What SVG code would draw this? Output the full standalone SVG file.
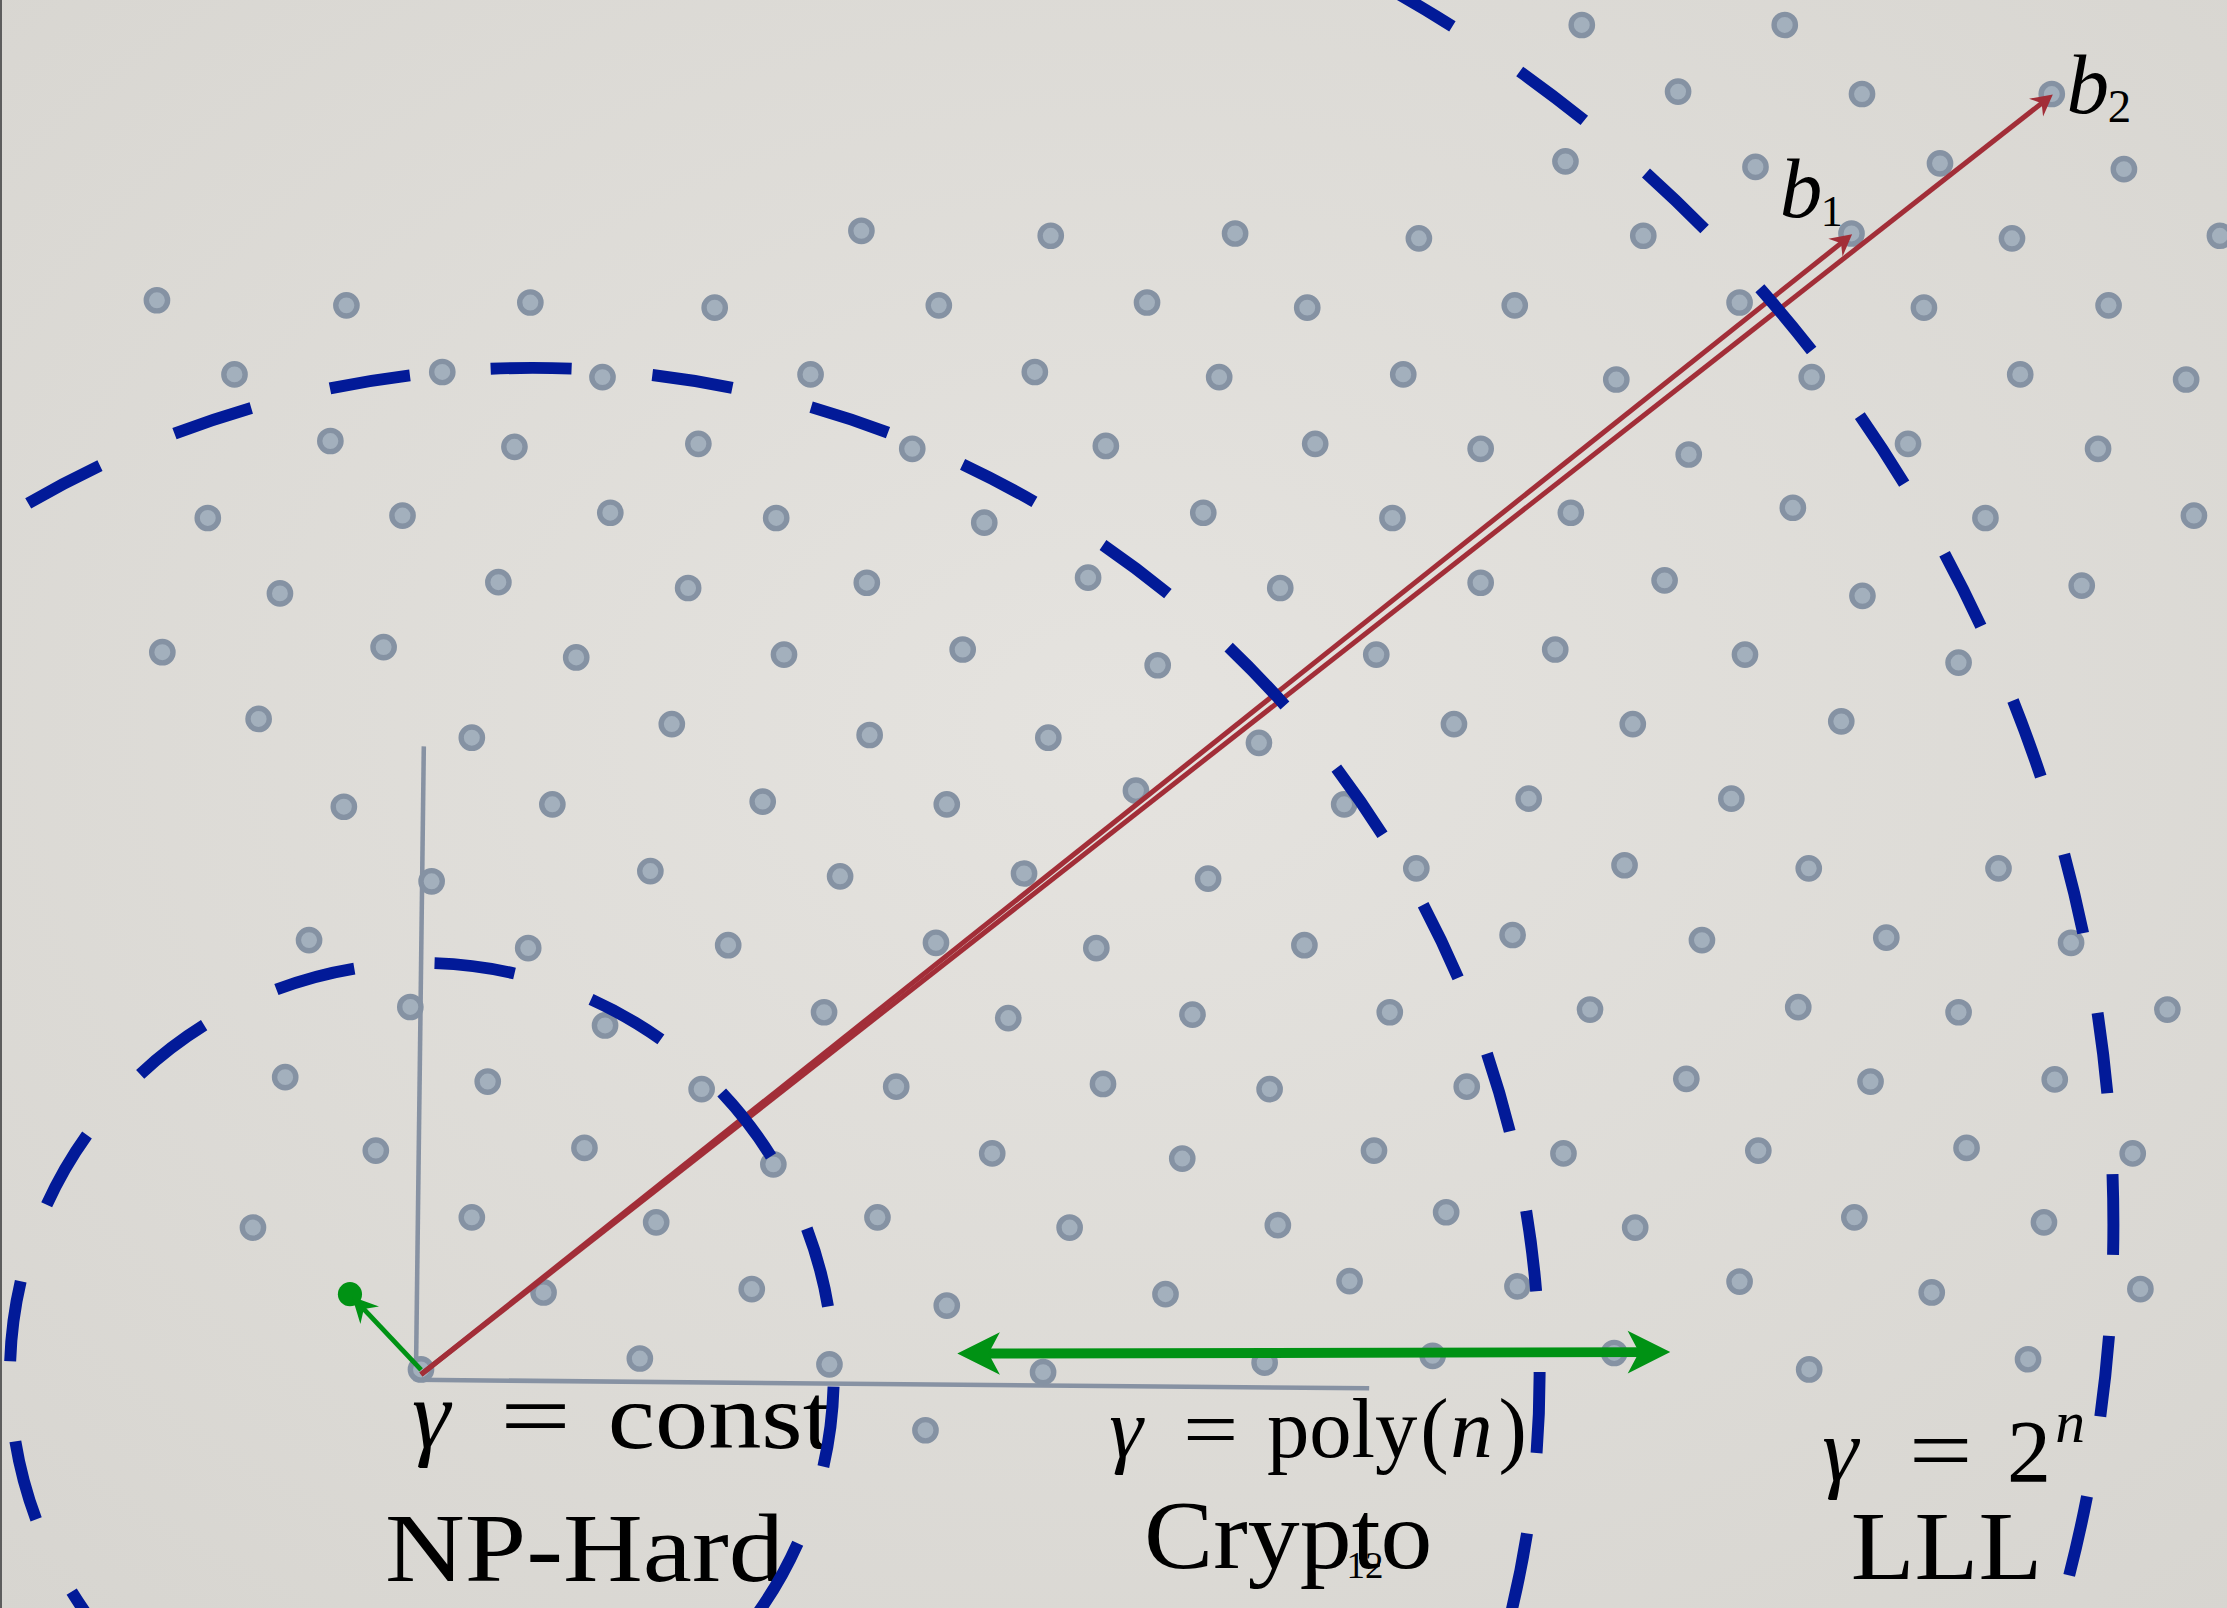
<svg xmlns="http://www.w3.org/2000/svg" xmlns:xlink="http://www.w3.org/1999/xlink" width="2227" height="1608" viewBox="0 0 2227 1608">
<defs>
<radialGradient id="bg" cx="50%" cy="45%" r="75%">
<stop offset="0" stop-color="#e5e3df"/>
<stop offset="1" stop-color="#d7d5d0"/>
</radialGradient>
<circle id="dt" r="7.5" fill="#a3b0bd" stroke="#8592a3" stroke-width="3.8"/>
<marker id="ar" markerUnits="userSpaceOnUse" orient="auto" overflow="visible" refX="-4" refY="0" markerWidth="1" markerHeight="1">
<path d="M0,0 L-15,-8 L-10,0 L-15,8 Z" fill="#a22e38"/>
</marker>
<marker id="ag" markerUnits="userSpaceOnUse" orient="auto" overflow="visible" refX="-4" refY="0" markerWidth="1" markerHeight="1">
<path d="M0,0 L-18,-9 L-12,0 L-18,9 Z" fill="#009214"/>
</marker>
<marker id="agb" markerUnits="userSpaceOnUse" orient="auto-start-reverse" overflow="visible" refX="-14" refY="0" markerWidth="1" markerHeight="1">
<path d="M0,0 L-30,-15 L-22,0 L-30,15 Z" fill="#009214"/>
</marker>
<style>
.t{font-family:"Liberation Serif","Times New Roman",serif;fill:#000}
.i{font-style:italic}
.ax{stroke:#8792a3;stroke-width:3.2;fill:none}
.dc{fill:none;stroke:#021a98;stroke-width:8.4}
.red{stroke:#a22e38;stroke-width:3.5;fill:none;marker-end:url(#ar)}
</style>
</defs>
<rect width="2227" height="1608" fill="url(#bg)"/>
<rect x="0" y="0" width="2" height="1608" fill="#5d5d5d"/>
<g transform="scale(1.4203)">
<g id="axes">
<line class="ax" x1="298.4" y1="525.5" x2="292.8" y2="972.5"/>
<line class="ax" x1="292.8" y1="971.5" x2="964" y2="977.5"/>
</g>
<g id="lattice">
<use href="#dt" x="1113.7" y="17.6"/><use href="#dt" x="1256.6" y="17.6"/>
<use href="#dt" x="1181.5" y="64.5"/><use href="#dt" x="1311" y="66.2"/><use href="#dt" x="1444.6" y="66.2"/>
<use href="#dt" x="1102.2" y="113.6"/><use href="#dt" x="1236" y="117.5"/><use href="#dt" x="1365.9" y="115"/><use href="#dt" x="1495.4" y="119.1"/>
<use href="#dt" x="606.5" y="162.5"/><use href="#dt" x="739.8" y="166"/><use href="#dt" x="869.6" y="164.4"/><use href="#dt" x="999" y="167.8"/><use href="#dt" x="1157" y="166"/><use href="#dt" x="1303.6" y="164.4"/><use href="#dt" x="1416.6" y="167.8"/><use href="#dt" x="1563" y="166"/>
<use href="#dt" x="110.5" y="211.4"/><use href="#dt" x="243.9" y="215"/><use href="#dt" x="373.4" y="213"/><use href="#dt" x="503.2" y="216.6"/><use href="#dt" x="661" y="215"/><use href="#dt" x="807.6" y="213"/><use href="#dt" x="920.4" y="216.6"/><use href="#dt" x="1066.5" y="215"/><use href="#dt" x="1224.8" y="213"/><use href="#dt" x="1354.6" y="216.6"/><use href="#dt" x="1484.6" y="215"/>
<use href="#dt" x="165.1" y="263.6"/><use href="#dt" x="311.4" y="261.9"/><use href="#dt" x="424.2" y="265.5"/><use href="#dt" x="570.7" y="263.6"/><use href="#dt" x="728.6" y="261.9"/><use href="#dt" x="858.4" y="265.5"/><use href="#dt" x="988" y="263.6"/><use href="#dt" x="1138" y="267.2"/><use href="#dt" x="1275.6" y="265.5"/><use href="#dt" x="1422.4" y="263.6"/><use href="#dt" x="1539.2" y="267.2"/>
<use href="#dt" x="232.6" y="310.5"/><use href="#dt" x="362.2" y="314.6"/><use href="#dt" x="491.7" y="312.5"/><use href="#dt" x="642.3" y="316"/><use href="#dt" x="778.6" y="314"/><use href="#dt" x="926" y="312.5"/><use href="#dt" x="1042.5" y="316"/><use href="#dt" x="1189" y="320"/><use href="#dt" x="1343.4" y="312.5"/><use href="#dt" x="1477.2" y="316"/>
<use href="#dt" x="146.3" y="364.7"/><use href="#dt" x="283.4" y="363"/><use href="#dt" x="429.7" y="361"/><use href="#dt" x="546.5" y="364.7"/><use href="#dt" x="693" y="368"/><use href="#dt" x="847.2" y="361"/><use href="#dt" x="980.4" y="364.7"/><use href="#dt" x="1106" y="361"/><use href="#dt" x="1262.3" y="357.5"/><use href="#dt" x="1397.9" y="364.7"/><use href="#dt" x="1544.7" y="363"/>
<use href="#dt" x="197.1" y="417.8"/><use href="#dt" x="350.9" y="409.9"/><use href="#dt" x="484.5" y="414"/><use href="#dt" x="610.3" y="410.3"/><use href="#dt" x="766.1" y="406.7"/><use href="#dt" x="901.4" y="414"/><use href="#dt" x="1042.5" y="410.3"/><use href="#dt" x="1172" y="408.6"/><use href="#dt" x="1311.3" y="419.5"/><use href="#dt" x="1465.7" y="412.3"/>
<use href="#dt" x="114.3" y="459.2"/><use href="#dt" x="270.1" y="455.6"/><use href="#dt" x="405.7" y="462.9"/><use href="#dt" x="552" y="460.9"/><use href="#dt" x="677.8" y="457.3"/><use href="#dt" x="815.1" y="468.4"/><use href="#dt" x="969" y="460.9"/><use href="#dt" x="1095" y="457.3"/><use href="#dt" x="1228.6" y="460.9"/><use href="#dt" x="1379" y="466.5"/>
<use href="#dt" x="182.1" y="506.2"/><use href="#dt" x="332.2" y="519.4"/><use href="#dt" x="473" y="509.8"/><use href="#dt" x="612.3" y="517.5"/><use href="#dt" x="738.1" y="519.4"/><use href="#dt" x="886.4" y="523"/><use href="#dt" x="1023.7" y="509.8"/><use href="#dt" x="1149.6" y="509.8"/><use href="#dt" x="1296.4" y="507.9"/>
<use href="#dt" x="242.1" y="568"/><use href="#dt" x="388.9" y="566.3"/><use href="#dt" x="537" y="564.4"/><use href="#dt" x="666.6" y="566.3"/><use href="#dt" x="799.8" y="556.7"/><use href="#dt" x="946.4" y="566.3"/><use href="#dt" x="1076.3" y="562.3"/><use href="#dt" x="1219" y="562.3"/>
<use href="#dt" x="303.9" y="620.5"/><use href="#dt" x="457.9" y="613.3"/><use href="#dt" x="591.5" y="617"/><use href="#dt" x="721" y="615"/><use href="#dt" x="850.6" y="618.6"/><use href="#dt" x="997.2" y="611.4"/><use href="#dt" x="1143.8" y="609.2"/><use href="#dt" x="1273.5" y="611.4"/><use href="#dt" x="1407.1" y="611.4"/>
<use href="#dt" x="217.6" y="661.9"/><use href="#dt" x="371.9" y="667.5"/><use href="#dt" x="512.7" y="665.5"/><use href="#dt" x="659" y="663.8"/><use href="#dt" x="771.9" y="667.5"/><use href="#dt" x="918.4" y="665.5"/><use href="#dt" x="1065" y="658.3"/><use href="#dt" x="1198.3" y="661.9"/><use href="#dt" x="1328.1" y="660.2"/><use href="#dt" x="1458.2" y="663.8"/>
<use href="#dt" x="288.9" y="709"/><use href="#dt" x="426" y="722"/><use href="#dt" x="580.2" y="712.7"/><use href="#dt" x="709.9" y="716.8"/><use href="#dt" x="839.6" y="714.4"/><use href="#dt" x="978.5" y="712.7"/><use href="#dt" x="1119.5" y="710.8"/><use href="#dt" x="1266.1" y="709.1"/><use href="#dt" x="1379" y="712.7"/><use href="#dt" x="1526" y="710.8"/>
<use href="#dt" x="200.8" y="758.4"/><use href="#dt" x="343.4" y="761.5"/><use href="#dt" x="494" y="766.8"/><use href="#dt" x="631" y="765.1"/><use href="#dt" x="776.6" y="763.2"/><use href="#dt" x="893.9" y="766.8"/><use href="#dt" x="1032.7" y="765.1"/><use href="#dt" x="1187.3" y="759.6"/><use href="#dt" x="1317" y="761.5"/><use href="#dt" x="1446.7" y="760"/>
<use href="#dt" x="264.6" y="810.1"/><use href="#dt" x="411.5" y="808.2"/><use href="#dt" x="544.5" y="819.8"/><use href="#dt" x="698.6" y="812.1"/><use href="#dt" x="832.4" y="815.7"/><use href="#dt" x="967.4" y="810.1"/><use href="#dt" x="1100.8" y="812.1"/><use href="#dt" x="1238" y="810.1"/><use href="#dt" x="1384.6" y="808.2"/><use href="#dt" x="1501.6" y="812.1"/>
<use href="#dt" x="178.1" y="864.3"/><use href="#dt" x="332.2" y="857.1"/><use href="#dt" x="462" y="860.6"/><use href="#dt" x="617.8" y="857.1"/><use href="#dt" x="753.1" y="864.3"/><use href="#dt" x="899.7" y="862.6"/><use href="#dt" x="1018.2" y="853.5"/><use href="#dt" x="1151.3" y="864.3"/><use href="#dt" x="1305.6" y="857.1"/><use href="#dt" x="1439.1" y="860.6"/>
<use href="#dt" x="382.7" y="910"/><use href="#dt" x="529.3" y="907.6"/><use href="#dt" x="666.6" y="919.2"/><use href="#dt" x="820.6" y="911.2"/><use href="#dt" x="950.2" y="902"/><use href="#dt" x="1068.4" y="905.7"/><use href="#dt" x="1224.8" y="902.3"/><use href="#dt" x="1360.1" y="910"/><use href="#dt" x="1507" y="907.6"/>
<use href="#dt" x="296.4" y="964.2"/><use href="#dt" x="450.5" y="956.5"/><use href="#dt" x="584" y="960.6"/><use href="#dt" x="734.4" y="966.1"/><use href="#dt" x="890.4" y="959.4"/><use href="#dt" x="1008.7" y="954.6"/><use href="#dt" x="1136.5" y="952.6"/><use href="#dt" x="1273.8" y="964.2"/><use href="#dt" x="1427.9" y="957"/>
<use href="#dt" x="651.6" y="1007"/>
</g>
<g id="labels">
<text class="t i" x="290" y="1019" font-size="68">γ</text>
<text class="t" x="352" y="1019" font-size="66" textLength="50" lengthAdjust="spacingAndGlyphs">=</text>
<text class="t" x="428" y="1019.5" font-size="66" textLength="158" lengthAdjust="spacingAndGlyphs">const</text>
<text class="t" x="271" y="1113.4" font-size="68" textLength="281" lengthAdjust="spacingAndGlyphs">NP-Hard</text>
<text class="t i" x="781" y="1025.6" font-size="60">γ</text>
<text class="t" x="833" y="1025.6" font-size="58" textLength="39" lengthAdjust="spacingAndGlyphs">=</text>
<text class="t" x="892" y="1025.6" font-size="60" textLength="106" lengthAdjust="spacingAndGlyphs">poly</text>
<text class="t" x="1000" y="1025.6" font-size="60">(</text>
<text class="t i" x="1021" y="1025.6" font-size="60">n</text>
<text class="t" x="1055" y="1025.6" font-size="60">)</text>
<text class="t" x="805.5" y="1104" font-size="68" textLength="203" lengthAdjust="spacingAndGlyphs">Crypto</text>
<text class="t" x="948" y="1111" font-size="27" fill="#222" textLength="26" lengthAdjust="spacingAndGlyphs">12</text>
<text class="t i" x="1283" y="1042.4" font-size="64">γ</text>
<text class="t" x="1344" y="1042.4" font-size="64" textLength="45" lengthAdjust="spacingAndGlyphs">=</text>
<text class="t" x="1413" y="1042.4" font-size="62">2</text>
<text class="t i" x="1447" y="1015" font-size="42">n</text>
<text class="t" x="1303" y="1112" font-size="68" textLength="135" lengthAdjust="spacingAndGlyphs">LLL</text>
</g>
<g id="connectors">
<line class="red" x1="296.4" y1="967.8" x2="1300.9" y2="167.5"/>
<line class="red" x1="296.4" y1="967.8" x2="1442.2" y2="69"/>
<circle cx="246.4" cy="911.2" r="8.5" fill="#009214"/>
<line x1="296.5" y1="964.5" x2="250.7" y2="915.9" stroke="#009214" stroke-width="3.4" marker-end="url(#ag)"/>
<line x1="688" y1="953" x2="1162" y2="952" stroke="#009214" stroke-width="7" marker-start="url(#agb)" marker-end="url(#agb)"/>
</g>
<g id="circles">
<circle class="dc" cx="297" cy="968" r="290" transform="rotate(90 297 968)" stroke-dasharray="56.84 56.84" stroke-dashoffset="-10.38"/>
<circle class="dc" cx="375" cy="968" r="709" transform="rotate(90 375 968)" stroke-dasharray="57.06 57.06" stroke-dashoffset="-29.31"/>
<circle class="dc" cx="491" cy="862" r="997" transform="rotate(90 491 862)" stroke-dasharray="57.05 57.05" stroke-dashoffset="15.73"/>
</g>
<g id="basis-labels">
<text class="t i" x="1253" y="153" font-size="60">b</text>
<text class="t" x="1282" y="159" font-size="31">1</text>
<text class="t i" x="1455" y="79.4" font-size="60">b</text>
<text class="t" x="1484" y="86" font-size="33">2</text>
</g>
</g>
</svg>
